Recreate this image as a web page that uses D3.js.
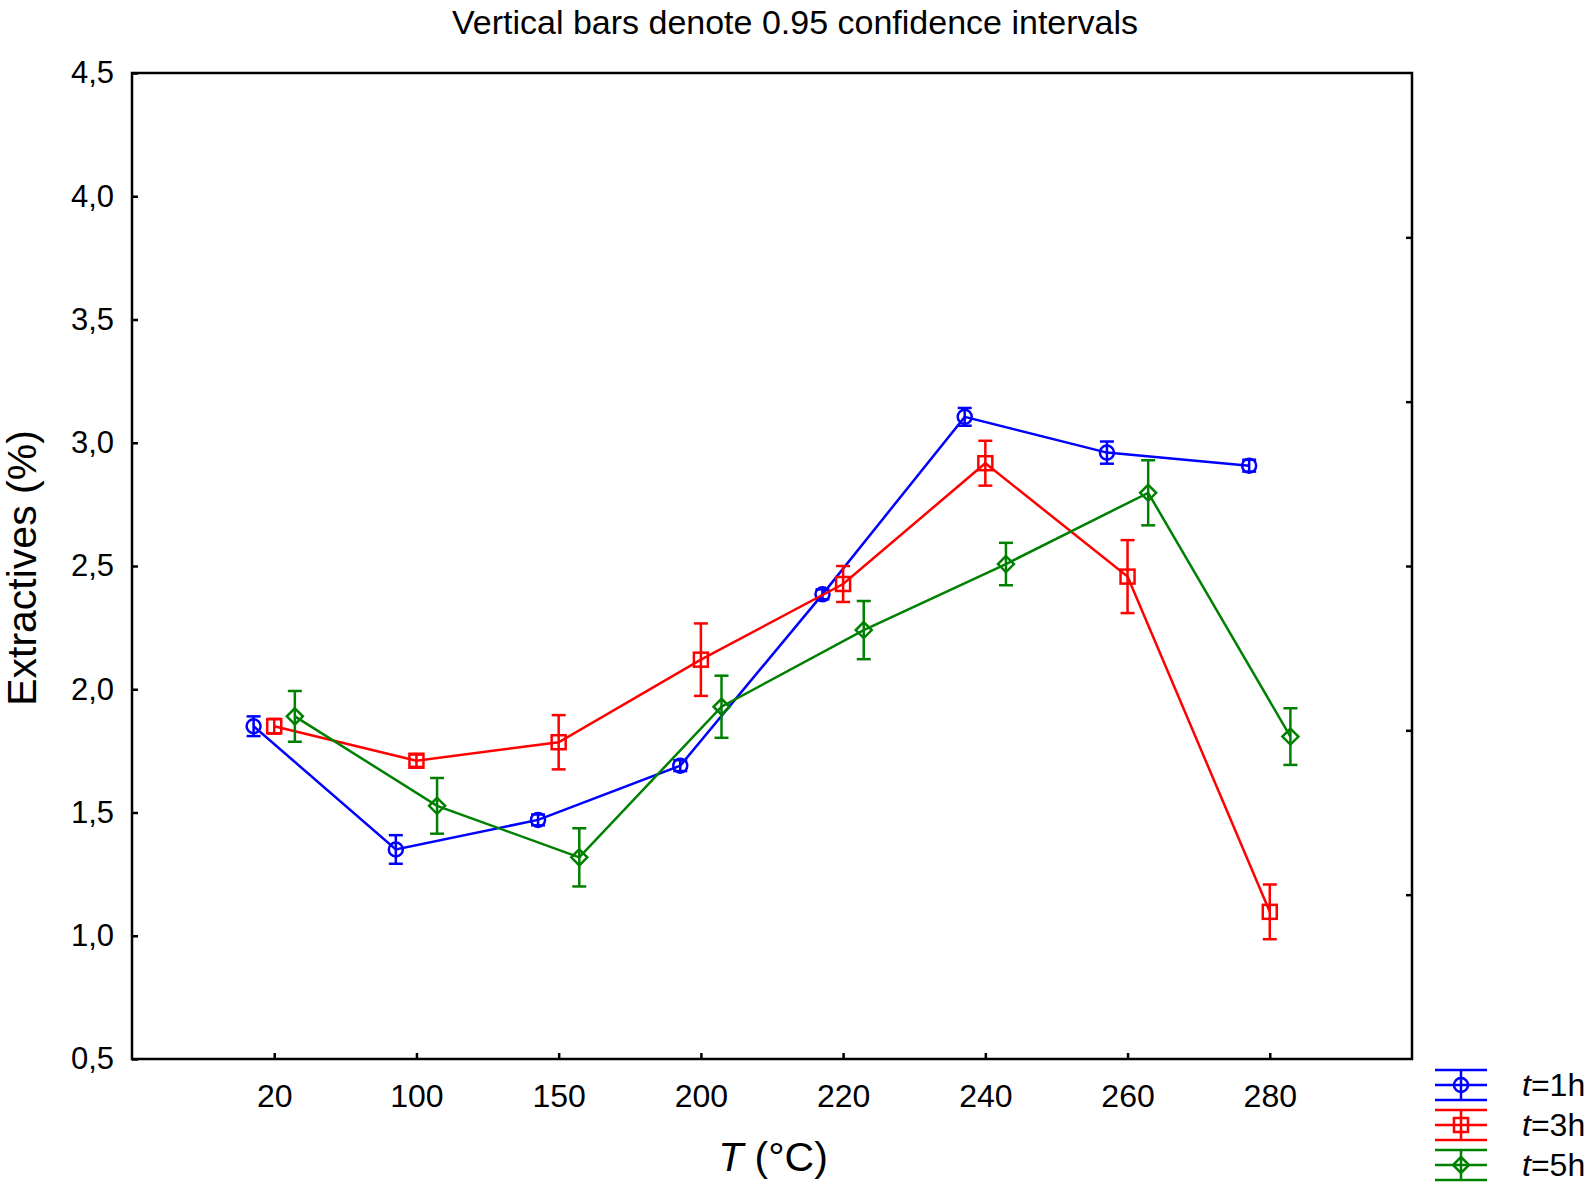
<!DOCTYPE html>
<html>
<head>
<meta charset="UTF-8">
<title>Extractives vs T</title>
<style>
    body { margin: 0; background: #ffffff; font-family: 'Liberation Sans', Arial, sans-serif; }
    .axis path { display: none; }
    .axis line { stroke: #000; stroke-width: 2.5; }
    .axis text { fill: #000; font-family: 'Liberation Sans', Arial, sans-serif; }
</style>
</head>
<body>
<script src="https://d3js.org/d3.v7.min.js"></script>
<script>
    // categories on the x axis (T in °C)
    const temps = ['20', '100', '150', '200', '220', '240', '260', '280'];

    // series means and half-widths of the 0.95 confidence intervals
    const mean1h = [1.85, 1.35, 1.47, 1.69, 2.385, 3.105, 2.96, 2.907];
    const ci1h   = [0.04, 0.058, 0.022, 0.022, 0.02, 0.036, 0.045, 0.024];
    const mean3h = [1.85, 1.71, 1.785, 2.12, 2.427, 2.917, 2.457, 1.097];
    const ci3h   = [0.03, 0.025, 0.11, 0.147, 0.073, 0.091, 0.148, 0.111];
    const mean5h = [1.89, 1.527, 1.318, 1.929, 2.24, 2.508, 2.797, 1.808];
    const ci5h   = [0.103, 0.113, 0.118, 0.126, 0.118, 0.086, 0.132, 0.115];

    const yTicks = [0.5, 1.0, 1.5, 2.0, 2.5, 3.0, 3.5, 4.0, 4.5];
    const seriesNames = ['t=1h', 't=3h', 't=5h'];

    const series = [
        { name: seriesNames[0], mean: mean1h, ci: ci1h, color: '#0000ff', shape: 'circle', shift: -0.145 },
        { name: seriesNames[1], mean: mean3h, ci: ci3h, color: '#ff0000', shape: 'square', shift: 0 },
        { name: seriesNames[2], mean: mean5h, ci: ci5h, color: '#008000', shape: 'diamond', shift: 0.145 }
    ];

    const W = 1595, H = 1190;
    const plot = { left: 132, right: 1412, top: 73, bottom: 1059 };

    const svg = d3.select('body').append('svg')
        .attr('width', W)
        .attr('height', H);

    const x = d3.scalePoint().domain(temps).range([plot.left, plot.right]).padding(1);
    const y = d3.scaleLinear().domain([0.5, 4.5]).range([plot.bottom, plot.top]);
    // the right frame has its own unlabelled ticks, 6 intervals
    const yRight = d3.scaleLinear().domain([0, 6]).range([plot.bottom, plot.top]);

    const fmt = d => d3.format('.1f')(d).replace('.', ',');

    // title
    svg.append('text')
        .attr('x', 795)
        .attr('y', 34)
        .attr('text-anchor', 'middle')
        .style('font-size', '34px')
        .text('Vertical bars denote 0.95 confidence intervals');

    // axes
    svg.append('g')
        .attr('class', 'axis axis--x')
        .attr('transform', `translate(0,${plot.bottom})`)
        .call(d3.axisBottom(x).tickSizeInner(-6).tickSizeOuter(0).tickPadding(25))
        .selectAll('text').style('font-size', '32px');

    svg.append('g')
        .attr('class', 'axis axis--y')
        .attr('transform', `translate(${plot.left},0)`)
        .call(d3.axisLeft(y).tickValues(yTicks).tickFormat(fmt).tickSizeInner(-6).tickSizeOuter(0).tickPadding(18))
        .selectAll('text').style('font-size', '31px');

    svg.append('g')
        .attr('class', 'axis axis--right')
        .attr('transform', `translate(${plot.right},0)`)
        .call(d3.axisRight(yRight).tickValues([1, 2, 3, 4, 5]).tickFormat('').tickSizeInner(-6).tickSizeOuter(0));

    // frame
    svg.append('rect')
        .attr('x', plot.left)
        .attr('y', plot.top)
        .attr('width', plot.right - plot.left)
        .attr('height', plot.bottom - plot.top)
        .attr('fill', 'none')
        .attr('stroke', '#000')
        .attr('stroke-width', 2.5);

    // axis labels
    const xl = svg.append('text')
        .attr('x', 773)
        .attr('y', 1171)
        .attr('text-anchor', 'middle')
        .style('font-size', '41px');
    xl.append('tspan').style('font-style', 'italic').text('T');
    xl.append('tspan').text(' (°C)');

    svg.append('text')
        .attr('transform', 'translate(36,568) rotate(-90)')
        .attr('text-anchor', 'middle')
        .style('font-size', '41px')
        .text('Extractives (%)');

    // marker drawing helper
    function marker(g, shape, color) {
        if (shape === 'circle') {
            g.append('circle').attr('r', 7);
        } else if (shape === 'square') {
            g.append('rect').attr('x', -7).attr('y', -7).attr('width', 14).attr('height', 14);
        } else {
            g.append('path').attr('d', 'M0,-8L8,0L0,8L-8,0Z');
        }
        g.selectAll('*').attr('fill', 'none').attr('stroke', color).attr('stroke-width', 2.5);
    }

    const step = x.step();

    series.forEach(s => {
        const pts = temps.map((t, i) => ({ t: t, m: s.mean[i], c: s.ci[i] }));
        const px = d => x(d.t) + s.shift * step;
        const g = svg.append('g').attr('class', 'series');

        g.append('path')
            .datum(pts)
            .attr('fill', 'none')
            .attr('stroke', s.color)
            .attr('stroke-width', 2.5)
            .attr('d', d3.line().x(px).y(d => y(d.m)));

        const bars = g.selectAll('.bar')
            .data(pts)
            .enter()
            .append('g')
            .attr('class', 'bar')
            .attr('stroke', s.color)
            .attr('stroke-width', 2.5);

        bars.append('line')
            .attr('x1', px).attr('x2', px)
            .attr('y1', d => y(d.m + d.c)).attr('y2', d => y(d.m - d.c));
        bars.append('line')
            .attr('x1', d => px(d) - 7).attr('x2', d => px(d) + 7)
            .attr('y1', d => y(d.m + d.c)).attr('y2', d => y(d.m + d.c));
        bars.append('line')
            .attr('x1', d => px(d) - 7).attr('x2', d => px(d) + 7)
            .attr('y1', d => y(d.m - d.c)).attr('y2', d => y(d.m - d.c));

        g.selectAll('.mark')
            .data(pts)
            .enter()
            .append('g')
            .attr('class', 'mark')
            .attr('transform', d => `translate(${px(d)},${y(d.m)})`)
            .each(function () { marker(d3.select(this), s.shape, s.color); });
    });

    // legend
    const legend = svg.append('g').attr('class', 'legend');
    series.forEach((s, i) => {
        const cy = 1085 + i * 40;
        const item = legend.append('g').attr('transform', `translate(1461,${cy})`);
        [-15, 0, 15].forEach(dy => {
            item.append('line')
                .attr('x1', -26).attr('x2', 26)
                .attr('y1', dy).attr('y2', dy)
                .attr('stroke', s.color).attr('stroke-width', 2.5);
        });
        item.append('line')
            .attr('x1', 0).attr('x2', 0).attr('y1', -15).attr('y2', 15)
            .attr('stroke', s.color).attr('stroke-width', 2.5);
        marker(item.append('g'), s.shape, s.color);

        const txt = legend.append('text')
            .attr('x', 1522)
            .attr('y', cy + 11)
            .style('font-size', '32px');
        txt.append('tspan').style('font-style', 'italic').text(s.name.slice(0, 1));
        txt.append('tspan').text(s.name.slice(1));
    });
</script>
</body>
</html>
